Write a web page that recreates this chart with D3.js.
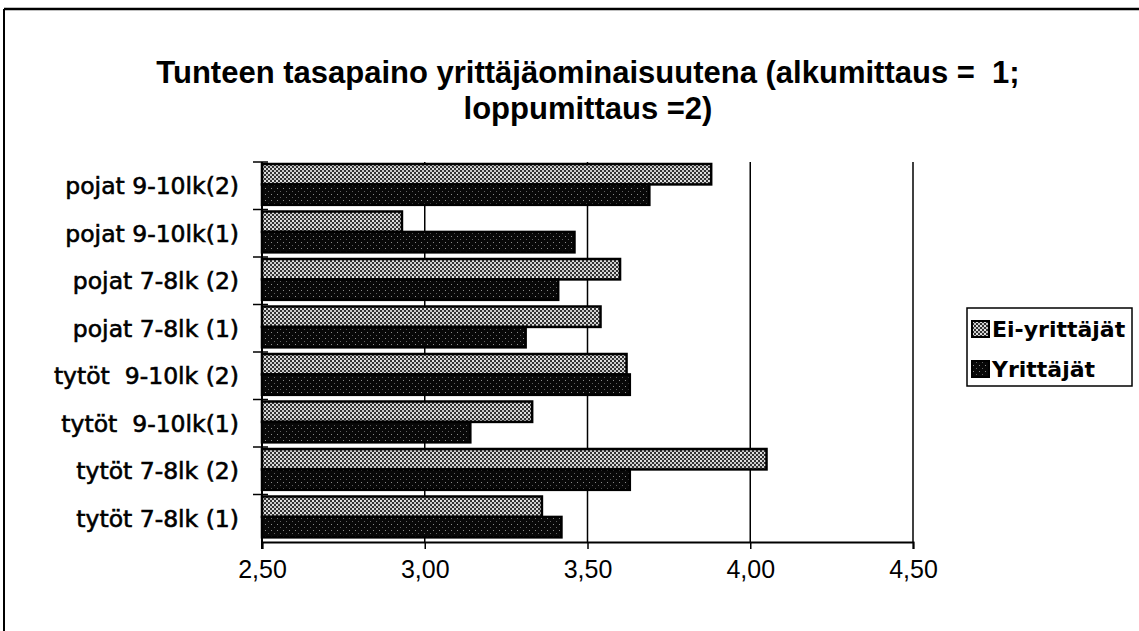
<!DOCTYPE html>
<html>
<head>
  <meta charset="utf-8">
  <title>Tunteen tasapaino</title>
  <script src="https://cdn.jsdelivr.net/npm/d3@7"></script>
  <style>
    body { margin: 0; background: #fff; }
    .title { font-family: 'Liberation Sans', Arial, sans-serif; font-weight: bold; font-size: 31px; fill: #000; }
    .ylab text { font-family: 'DejaVu Sans', sans-serif; font-size: 23.5px; fill: #000; stroke: #000; stroke-width: 0.6px; white-space: pre; }
    .xlab text { font-family: 'Liberation Sans', Arial, sans-serif; font-size: 25px; fill: #000; }
    .legend text { font-family: 'DejaVu Sans', sans-serif; font-weight: bold; font-size: 22px; fill: #000; }
  </style>
</head>
<body>
<div id="chart"></div>
<script>
  // data
  var categories = ["pojat 9-10lk(2)", "pojat 9-10lk(1)", "pojat 7-8lk (2)", "pojat 7-8lk (1)",
    "tytöt  9-10lk (2)", "tytöt  9-10lk(1)", "tytöt 7-8lk (2)", "tytöt 7-8lk (1)"];
  var eiYrittajat = [3.88, 2.93, 3.60, 3.54, 3.62, 3.33, 4.05, 3.36];
  var yrittajat = [3.69, 3.46, 3.41, 3.31, 3.63, 3.14, 3.63, 3.42];
  var seriesNames = ["Ei-yrittäjät", "Yrittäjät"];
  var xTicks = [2.5, 3.0, 3.5, 4.0, 4.5];
  var titleLines = ["Tunteen tasapaino yrittäjäominaisuutena (alkumittaus =  1;", "loppumittaus =2)"];

  var W = 1139, H = 631;
  var plot = { left: 262, right: 913, top: 162, bottom: 542 };

  var svg = d3.select("#chart").append("svg")
    .attr("width", W)
    .attr("height", H);

  // fill patterns (scanned dither look)
  var defs = svg.append("defs");
  var p1 = defs.append("pattern").attr("id", "pLight")
    .attr("width", 4).attr("height", 4).attr("patternUnits", "userSpaceOnUse");
  p1.append("rect").attr("width", 4).attr("height", 4).attr("fill", "#333");
  p1.append("rect").attr("x", 0).attr("y", 0).attr("width", 2).attr("height", 2).attr("fill", "#e0e0e0");
  p1.append("rect").attr("x", 2).attr("y", 2).attr("width", 2).attr("height", 2).attr("fill", "#c8c8c8");

  var p2 = defs.append("pattern").attr("id", "pDark")
    .attr("width", 6).attr("height", 6).attr("patternUnits", "userSpaceOnUse");
  p2.append("rect").attr("width", 6).attr("height", 6).attr("fill", "#080808");
  p2.append("rect").attr("x", 1).attr("y", 2).attr("width", 1).attr("height", 1).attr("fill", "#8a8a8a");
  p2.append("rect").attr("x", 4).attr("y", 5).attr("width", 1).attr("height", 1).attr("fill", "#606060");

  var fills = ["url(#pLight)", "url(#pDark)"];

  // frame (only left and top edges are visible in the scan)
  svg.append("line").attr("x1", 4).attr("y1", 9).attr("x2", W).attr("y2", 9)
    .attr("stroke", "#000").attr("stroke-width", 2.5);
  svg.append("line").attr("x1", 4).attr("y1", 9).attr("x2", 4).attr("y2", H)
    .attr("stroke", "#000").attr("stroke-width", 2);

  // title
  svg.append("g").selectAll("text")
    .data(titleLines)
    .enter().append("text")
    .attr("class", "title")
    .attr("x", 588)
    .attr("y", function(d, i) { return 83 + i * 36; })
    .attr("text-anchor", "middle")
    .style("white-space", "pre")
    .text(function(d) { return d; });

  var x = d3.scaleLinear().domain([2.5, 4.5]).range([plot.left, plot.right]);
  var y = d3.scaleBand().domain(categories).range([plot.top, plot.bottom]);
  var bw = y.bandwidth();
  var barH = bw * 0.43;

  // gridlines
  svg.append("g").selectAll("line")
    .data(xTicks.slice(1))
    .enter().append("line")
    .attr("x1", function(d) { return x(d); })
    .attr("x2", function(d) { return x(d); })
    .attr("y1", plot.top)
    .attr("y2", plot.bottom)
    .attr("stroke", "#000")
    .attr("stroke-width", 1.5);

  // bars
  var series = [eiYrittajat, yrittajat];
  series.forEach(function(vals, s) {
    svg.append("g").selectAll("rect")
      .data(vals)
      .enter().append("rect")
      .attr("x", x(2.5))
      .attr("y", function(d, i) { return y(categories[i]) + 2 + s * barH; })
      .attr("width", function(d) { return x(d) - x(2.5); })
      .attr("height", barH)
      .attr("fill", fills[s])
      .attr("stroke", "#000")
      .attr("stroke-width", 2.5);
  });

  // x axis
  var xAxis = d3.axisBottom(x)
    .tickValues(xTicks)
    .tickSize(7)
    .tickPadding(11)
    .tickFormat(function(d) { return d3.format(".2f")(d).replace(".", ","); });
  var gx = svg.append("g")
    .attr("class", "xlab")
    .attr("transform", "translate(0," + plot.bottom + ")")
    .call(xAxis);
  gx.select(".domain").attr("stroke", "#000").attr("stroke-width", 2);
  gx.selectAll(".tick line").attr("stroke", "#000").attr("stroke-width", 1.5);

  // y axis: labels at band centres, ticks at band edges
  var gy = svg.append("g")
    .attr("class", "ylab")
    .attr("transform", "translate(" + plot.left + ",0)")
    .call(d3.axisLeft(y).tickSize(0).tickPadding(23));
  gy.select(".domain").remove();
  gy.selectAll("text").attr("dy", "0.36em");
  svg.append("line")
    .attr("x1", plot.left).attr("x2", plot.left)
    .attr("y1", plot.top).attr("y2", plot.bottom + 7)
    .attr("stroke", "#000").attr("stroke-width", 2);
  svg.append("g").selectAll("line")
    .data(categories)
    .enter().append("line")
    .attr("x1", plot.left - 9)
    .attr("x2", plot.left + 6)
    .attr("y1", function(d) { return y(d); })
    .attr("y2", function(d) { return y(d); })
    .attr("stroke", "#000")
    .attr("stroke-width", 1.5);

  // legend
  var lg = svg.append("g").attr("class", "legend").attr("transform", "translate(967,308)");
  lg.append("rect").attr("width", 165).attr("height", 78)
    .attr("fill", "#fff").attr("stroke", "#000").attr("stroke-width", 1.5);
  var li = lg.selectAll("g.item")
    .data(seriesNames)
    .enter().append("g")
    .attr("class", "item")
    .attr("transform", function(d, i) { return "translate(5," + (21 + i * 40) + ")"; });
  li.append("rect")
    .attr("y", -8).attr("width", 17).attr("height", 16)
    .attr("fill", function(d, i) { return fills[i]; })
    .attr("stroke", "#000").attr("stroke-width", 2);
  li.append("text")
    .attr("x", 20)
    .attr("dy", "0.36em")
    .text(function(d) { return d; });
</script>
</body>
</html>
